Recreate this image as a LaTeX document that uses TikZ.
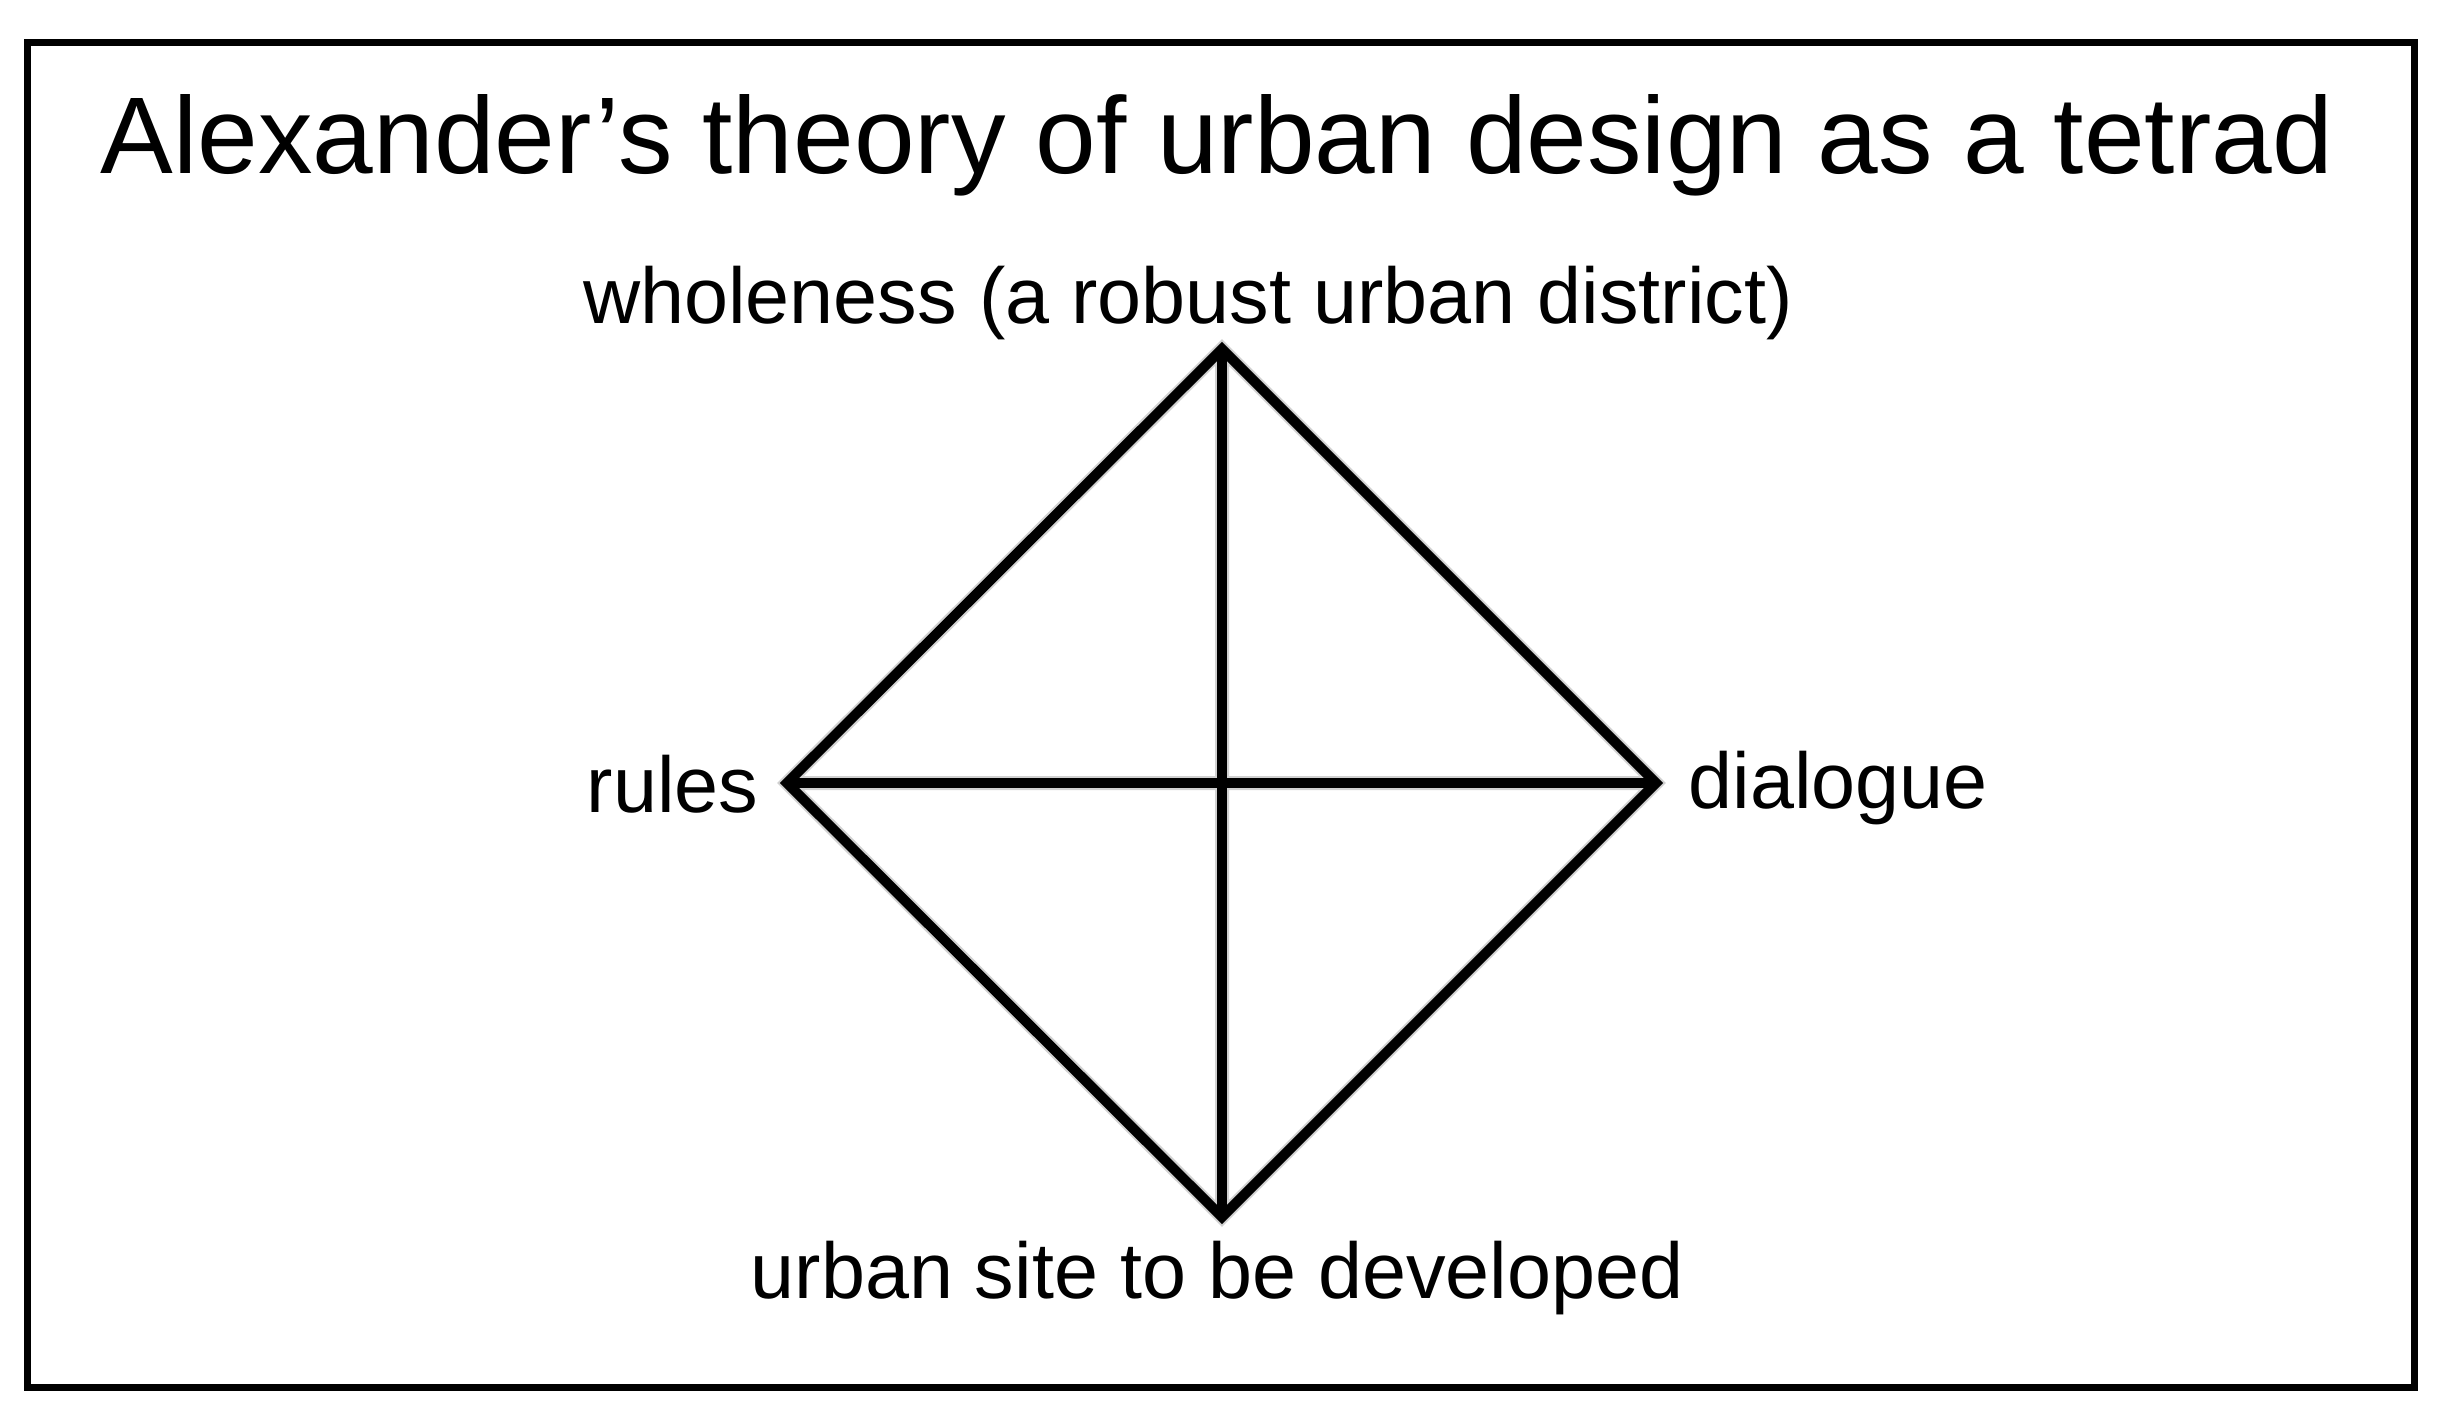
\documentclass[tikz,border=0pt]{standalone}
\usepackage{fontspec}
\setmainfont{Liberation Sans}
\begin{document}
\begin{tikzpicture}[x=0.01cm,y=-0.01cm,line join=miter]
	\tikzstyle{side}=[line width=0.1cm]
	\tikzstyle{halo}=[line width=0.14cm,black!18,shift={(1,2)}]
	\tikzstyle{corner}=[inner sep=0pt,anchor=base,font=\fontsize{22.5}{27}\selectfont]
	\useasboundingbox (0,0) rectangle (2444,1415);
	\draw[line width=0.07cm] (27.5,42.5) rectangle (2414.5,1387);
	\node[anchor=base,inner sep=0pt,font=\fontsize{31}{37}\selectfont] (title) at (1217,173) {Alexander’s theory of urban design as a tetrad};
	\coordinate (top) at (1222,349);
	\coordinate (left) at (787,783);
	\coordinate (right) at (1656,783);
	\coordinate (bottom) at (1222,1217);
	% soft shadow under the tetrad
	\draw[halo] (top) -- (right) -- (bottom) -- (left) -- cycle (top) -- (bottom) (left) -- (right);
	\draw[side] (top) -- (right) -- (bottom) -- (left) -- cycle;
	\draw[side] (top) -- (bottom);
	\draw[side] (left) -- (right);
	\node[corner] (wholeness) at (1188,323) {wholeness (a robust urban district)};
	\node[corner,anchor=base east] (rules) at (759,812) {rules};
	\node[corner,anchor=base west] (dialogue) at (1688,808) {dialogue};
	\node[corner] (site) at (1217,1298) {urban site to be developed};
\end{tikzpicture}
\end{document}
